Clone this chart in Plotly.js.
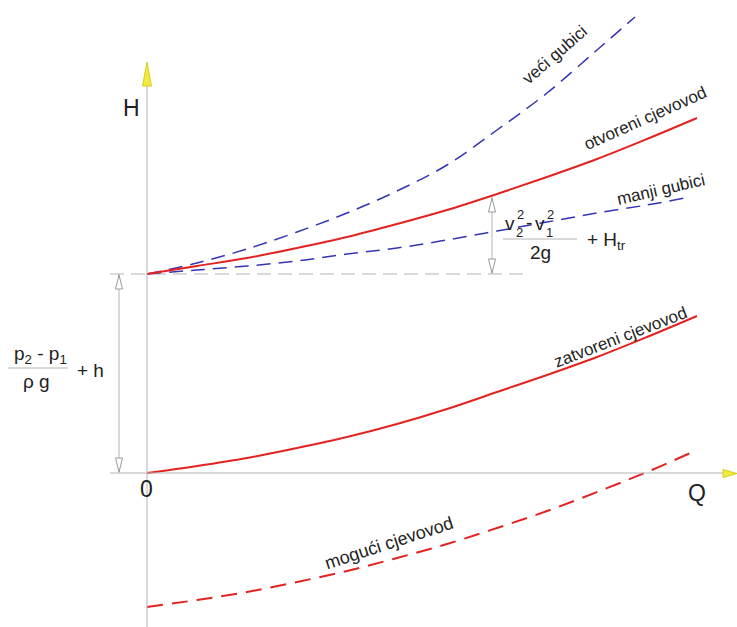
<!DOCTYPE html>
<html>
<head>
<meta charset="utf-8">
<script src="https://cdn.plot.ly/plotly-3.0.1.min.js"></script>
<style>
  html, body { margin: 0; padding: 0; background: #fff; }
  #chart { width: 737px; height: 627px; }
</style>
</head>
<body>
<div id="chart"></div>
<script>
// flow Q and head H
var Q = [0, 0.5, 1, 1.5, 2, 2.5, 3, 3.5, 4, 4.5, 5, 5.5];
var hOpen = [1.99, 2.07, 2.15, 2.25, 2.36, 2.49, 2.63, 2.79, 2.96, 3.14, 3.34, 3.55];
var hClosed = [0, 0.07, 0.15, 0.25, 0.36, 0.49, 0.64, 0.81, 0.98, 1.16, 1.36, 1.57];
var hPossible = [-1.34, -1.27, -1.19, -1.09, -0.98, -0.85, -0.71, -0.55, -0.38, -0.19, 0.01, 0.23];

var qBig = [0, 0.5, 1, 1.5, 2, 2.5, 3, 3.5, 4, 4.5, 4.88];
var hBig = [1.99, 2.10, 2.24, 2.41, 2.60, 2.82, 3.08, 3.43, 3.80, 4.23, 4.56];

var qSmall = [0, 0.5, 1, 1.5, 2, 2.5, 3, 3.5, 4, 4.5, 5, 5.38];
var hSmall = [1.99, 2.03, 2.07, 2.12, 2.19, 2.25, 2.33, 2.42, 2.51, 2.60, 2.68, 2.75];

var levelQ = [-0.37, 3.78];
var levelH = [1.99, 1.99];

var red = '#e3231f';
var blue = '#3535b5';
var grey = '#b4b4b4';
var font = 'Liberation Sans, Arial, sans-serif';

function curve(x, y, color, width, dash) {
  return {
    x: x, y: y, type: 'scatter', mode: 'lines',
    line: {color: color, width: width, dash: dash, shape: 'spline', smoothing: 1},
    hoverinfo: 'skip'
  };
}

var data = [
  curve(levelQ, levelH, grey, 1, '14px,7px'),
  curve(qBig, hBig, blue, 1.5, '14px,8px'),
  curve(qSmall, hSmall, blue, 1.5, '14px,8px'),
  curve(Q, hOpen, red, 2, 'solid'),
  curve(Q, hClosed, red, 2, 'solid'),
  curve(Q, hPossible, red, 2, '16px,9px')
];

// page pixel -> data units (plot fills the page)
function X(px) { return (px - 147) / 100; }
function Y(py) { return (473 - py) / 100; }

function txt(t, px, py, size, angle) {
  return {
    text: t, x: X(px), y: Y(py), xref: 'x', yref: 'y',
    showarrow: false, xanchor: 'center', yanchor: 'middle',
    textangle: angle || 0,
    font: {family: font, size: size, color: '#222'}
  };
}

function seg(x0, y0, x1, y1, color, width) {
  return {type: 'line', xref: 'x', yref: 'y', x0: X(x0), y0: Y(y0), x1: X(x1), y1: Y(y1),
    line: {color: color, width: width}};
}

function tri(pts, fill, lineColor) {
  var p = 'M' + pts.map(function (d) { return X(d[0]) + ',' + Y(d[1]); }).join(' L') + ' Z';
  return {type: 'path', xref: 'x', yref: 'y', path: p, fillcolor: fill,
    line: {color: lineColor, width: 1}};
}

var shapes = [
  // axes
  seg(147, 64, 147, 627, grey, 1),
  seg(110, 473, 724, 473, grey, 1),
  // dimension lines
  seg(119, 274, 119, 473, grey, 1),
  seg(492, 197, 492, 274, grey, 1),
  // fraction bars
  seg(8, 368, 68, 368, grey, 1),
  seg(503, 239, 577, 239, grey, 1),
  // yellow axis arrows
  tri([[147, 62], [142.5, 86], [151.5, 86]], '#f4ea3c', '#d9cc20'),
  tri([[737, 473.5], [723, 469.5], [723, 477.5]], '#f4ea3c', '#d9cc20'),
  // hollow dimension arrowheads
  tri([[119, 275], [115.5, 289], [122.5, 289]], '#fff', '#999'),
  tri([[119, 472], [115.5, 458], [122.5, 458]], '#fff', '#999'),
  tri([[492, 198], [488.5, 212], [495.5, 212]], '#fff', '#999'),
  tri([[492, 273], [488.5, 259], [495.5, 259]], '#fff', '#999')
];

var annotations = [
  txt('H', 131, 108, 23),
  txt('0', 146, 489, 23),
  txt('Q', 697, 493, 23),
  txt('veći gubici', 554, 55, 17, -41),
  txt('otvoreni cjevovod', 645, 118, 17, -24),
  txt('manji gubici', 661, 189, 17, -13),
  txt('zatvoreni cjevovod', 620, 337, 17, -21),
  txt('mogući cjevovod', 389, 543, 18, -18),
  // (v2^2 - v1^2) / 2g + Htr
  txt('v', 510, 223, 19),
  txt('2', 520, 214, 13),
  txt('2', 519, 232, 13),
  txt('-', 529, 222, 19),
  txt('v', 540, 223, 19),
  txt('2', 550, 214, 13),
  txt('1', 549, 232, 13),
  txt('2g', 540, 252, 19),
  txt('+ H<sub>tr</sub>', 606, 241, 19),
  // (p2 - p1) / rho g + h
  txt('p<sub>2</sub> - p<sub>1</sub>', 40, 355, 19),
  txt('ρ g', 36, 381, 19),
  txt('+ h', 90, 370, 19)
];

var layout = {
  width: 737, height: 627,
  margin: {l: 0, r: 0, t: 0, b: 0},
  paper_bgcolor: '#fff', plot_bgcolor: '#fff',
  showlegend: false,
  xaxis: {range: [X(0), X(737)], visible: false, fixedrange: true},
  yaxis: {range: [Y(627), Y(0)], visible: false, fixedrange: true},
  shapes: shapes,
  annotations: annotations
};

Plotly.newPlot('chart', data, layout, {displayModeBar: false, staticPlot: true});
</script>
</body>
</html>
